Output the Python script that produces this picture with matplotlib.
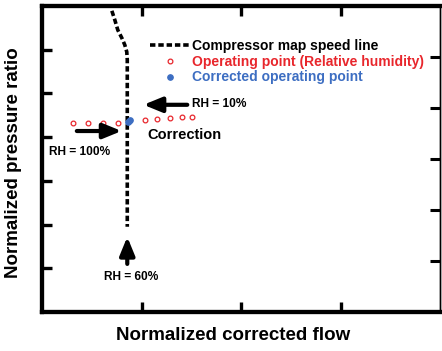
import numpy as np
import matplotlib
matplotlib.use("Agg")
import matplotlib.pyplot as plt

plt.rcParams['font.family'] = ['Liberation Sans', 'DejaVu Sans']

# speed line (normalized flow, normalized pressure ratio)
speed_x = [0.702, 0.732, 0.762, 0.802, 0.832, 0.852, 0.857, 0.857]
speed_y = [6.89, 6.68, 6.45, 6.27, 6.11, 5.95, 5.77, 1.95]

# operating points for varying relative humidity
op_x = [0.31, 0.46, 0.61, 0.76, 1.04, 1.16, 1.29, 1.41, 1.51]
op_y = [4.32, 4.32, 4.32, 4.32, 4.39, 4.42, 4.44, 4.46, 4.47]

# corrected operating points
corr_x = [0.86, 0.875, 0.88]
corr_y = [4.35, 4.37, 4.40]

red = '#e8262c'
blue = '#3d6ec2'

fig = plt.figure(figsize=(4.42, 3.51), dpi=100)
ax = fig.add_axes([42/442, 39/351, 398/442, 306/351])
ax.set_xlim(0, 4)
ax.set_ylim(0, 7)

ax.plot(speed_x, speed_y, color='black', lw=2.6, ls=(0, (1.5, 0.8)),
        label='Compressor map speed line')
ax.plot(op_x, op_y, ls='none', marker='o', ms=3.4, mfc='white', mec=red, mew=0.9,
        label='Operating point (Relative humidity)')
ax.plot(corr_x, corr_y, ls='none', marker='o', ms=4, mfc=blue, mec=blue, mew=0.8,
        label='Corrected operating point')

leg = ax.legend(loc='upper left', bbox_to_anchor=(0.257, 0.91), frameon=False,
                handlelength=2.9, handletextpad=0.15, labelspacing=0.12,
                borderaxespad=0, prop={'weight': 'bold', 'size': 10})
leg.get_texts()[1].set_color(red)
leg.get_texts()[2].set_color(blue)

arrow = dict(arrowstyle='-|>,head_width=0.45,head_length=1.1', color='black', lw=3,
             shrinkA=0, shrinkB=0)
ax.annotate('', xy=(1.02, 4.74), xytext=(1.46, 4.74), arrowprops=arrow)
ax.annotate('', xy=(0.80, 4.14), xytext=(0.35, 4.14), arrowprops=arrow)
ax.annotate('', xy=(0.857, 1.72), xytext=(0.857, 1.10), arrowprops=arrow)

ax.text(1.51, 4.75, 'RH = 10%', fontsize=8.6, fontweight='bold', va='center', ha='left')
ax.text(1.06, 4.04, 'Correction', fontsize=10.5, fontweight='bold', va='center', ha='left')
ax.text(0.07, 3.66, 'RH = 100%', fontsize=8.6, fontweight='bold', va='center', ha='left')
ax.text(0.62, 0.80, 'RH = 60%', fontsize=8.6, fontweight='bold', va='center', ha='left')

ax.set_xticks([1, 2, 3])
ax.set_yticks([1, 2, 3, 4, 5, 6])
ax.tick_params(direction='in', length=7, width=2.4, top=True, right=False,
               labelbottom=False, labelleft=False)

ax2 = ax.twinx()
ax2.set_ylim(0, 6)
ax2.set_yticks([1, 2, 3, 4, 5])
ax2.tick_params(direction='in', length=7, width=2.2, labelright=False)

for a in (ax, ax2):
    a.spines['left'].set_linewidth(3)
    a.spines['bottom'].set_linewidth(3)
    a.spines['top'].set_linewidth(3)
    a.spines['right'].set_linewidth(1.0)

fig.text(233/442, 1 - 336/351, 'Normalized corrected flow', fontsize=13.5,
         fontweight='bold', ha='center', va='center')
fig.text(14/442, 1 - 163/351, 'Normalized pressure ratio', fontsize=13.5,
         fontweight='bold', ha='center', va='center', rotation=90)

fig.savefig('out.png', dpi=100)
